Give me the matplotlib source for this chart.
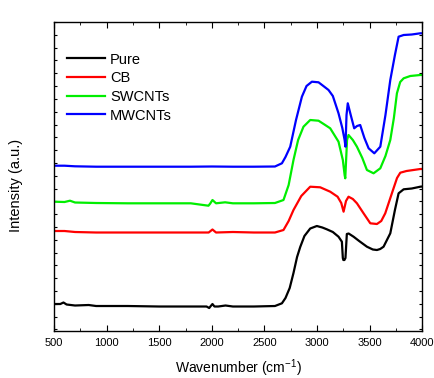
import matplotlib
matplotlib.use("Agg")
import matplotlib.pyplot as plt
from matplotlib.ticker import MultipleLocator, NullFormatter
import numpy as np

plt.rcParams['font.family'] = ['Liberation Sans', 'DejaVu Sans']
plt.rcParams['mathtext.fontset'] = 'custom'
plt.rcParams['mathtext.rm'] = 'Liberation Sans'

labels = ["Pure", "CB", "SWCNTs", "MWCNTs"]
colors = ["#000000", "#ff0000", "#00ee00", "#0000ff"]

pure_x = [500, 560, 590, 620, 700, 830, 900, 1200, 1500, 1800, 1950, 1975, 1990, 2006, 2025, 2060,
          2130, 2200, 2400, 2600, 2666, 2700, 2740, 2776, 2810, 2840, 2880, 2935, 2998, 3050, 3093,
          3150, 3204, 3236, 3245, 3250, 3260, 3270, 3283, 3300, 3347, 3400, 3474, 3530, 3569, 3600,
          3632, 3696, 3740, 3775, 3823, 3900, 3981, 4000]
pure_y = [27, 27, 28.5, 26.5, 25.5, 26, 25, 25, 24.5, 24.5, 24.5, 23, 25, 27, 24.5, 24.5,
          25.5, 24.5, 24.5, 25, 27.7, 33, 43, 58, 74, 84, 95, 102.5, 105, 103.5, 101.7,
          99, 94.3, 89.3, 73, 71, 71, 73, 97, 97.5, 94.3, 90, 84.3, 81.5, 81, 82,
          84.3, 97.7, 121, 137.7, 141.7, 142.5, 144.3, 144.5]

cb_x = [500, 600, 700, 900, 1200, 1500, 1800, 1970, 2006, 2040, 2200, 2400, 2600, 2681, 2730, 2776,
        2850, 2935, 3030, 3125, 3195, 3230, 3252, 3275, 3299, 3340, 3379, 3440, 3506, 3569, 3610,
        3648, 3690, 3727, 3760, 3791, 3850, 3981, 4000]
cb_y = [100, 100, 99, 98.5, 98.5, 98.5, 98.5, 98.5, 101.5, 98.5, 99, 98.5, 98.5, 101, 110, 121,
        135, 144.3, 143.7, 139.3, 134.3, 128, 119.3, 130, 134.3, 132, 127.7, 118, 107.7, 107, 110,
        117.7, 131, 142.7, 153, 158.3, 160, 162, 162]

sw_x = [500, 600, 652, 700, 900, 1200, 1500, 1800, 1968, 1985, 2006, 2040, 2126, 2200, 2400, 2600,
        2681, 2730, 2776, 2820, 2871, 2935, 3014, 3070, 3125, 3204, 3245, 3262, 3268, 3285, 3299,
        3340, 3379, 3430, 3474, 3537, 3601, 3650, 3696, 3730, 3759, 3790, 3823, 3886, 3981, 4000]
sw_y = [129.3, 129, 130.3, 128.5, 128, 127.7, 127.7, 127.7, 125.3, 127.5, 131, 127.7, 128.7, 127.7, 127.7, 128,
        131, 146, 171, 191, 204.3, 211, 210.3, 206.5, 202.7, 189.3, 171, 156, 152.7, 191, 196,
        191, 184.3, 173, 161, 157.7, 162.7, 175, 191, 213, 237.7, 249, 252.7, 255, 256, 256]

mw_x = [500, 600, 700, 900, 1200, 1500, 1800, 2000, 2200, 2400, 2600, 2666, 2700, 2745, 2800, 2856,
        2900, 2951, 3014, 3060, 3109, 3150, 3204, 3240, 3262, 3270, 3280, 3292, 3320, 3353, 3380,
        3410, 3450, 3490, 3544, 3601, 3650, 3696, 3740, 3775, 3823, 3900, 3981, 4000]
mw_y = [165.3, 165.3, 164.7, 164.3, 164.3, 164.3, 164.3, 164.5, 164.3, 164.3, 164.5, 167.7, 174, 184.3, 211, 234.3,
        245, 249.3, 248.7, 245, 241, 235, 217.7, 203, 191, 184.3, 216, 227.7, 216, 202.7, 205,
        206, 193, 182.7, 177.7, 184.3, 216, 251, 276, 294.3, 296, 296.5, 297.7, 297.7]

xs = [pure_x, cb_x, sw_x, mw_x]
ys = [pure_y, cb_y, sw_y, mw_y]

fig = plt.figure(figsize=(4.34, 3.78), dpi=100)
ax = fig.add_axes([0.1244, 0.1251, 0.8486, 0.8175])

for x, y, c, l in zip(xs, ys, colors, labels):
    ax.plot(x, y, color=c, lw=1.6, label=l)

ax.set_xlim(500, 4000)
ax.set_ylim(0.3, 309.3)
ax.xaxis.set_major_locator(MultipleLocator(500))
ax.xaxis.set_minor_locator(MultipleLocator(250))
ax.set_yticks(np.arange(1.7, 309, 12.8))
ax.yaxis.set_major_formatter(NullFormatter())
ax.tick_params(axis='both', which='both', direction='in', top=True, right=True)
ax.tick_params(axis='x', which='major', length=4, labelsize=8, pad=5)
ax.tick_params(axis='x', which='minor', length=2.5)
ax.tick_params(axis='y', which='major', length=2.5)
for s in ax.spines.values():
    s.set_linewidth(1.0)

ax.set_xlabel("Wavenumber (cm$^{-1}$)", fontsize=10)
ax.xaxis.set_label_coords(0.5, -0.086)
ax.set_ylabel("Intensity (a.u.)", fontsize=10.5)
ax.yaxis.set_label_coords(-0.085, 0.47)

ax.legend(loc='upper left', bbox_to_anchor=(0.035, 0.9), frameon=False, fontsize=10.5,
          handlelength=2.6, handletextpad=0.35, labelspacing=0.32, borderpad=0, borderaxespad=0)

fig.savefig("out.png", dpi=100)
